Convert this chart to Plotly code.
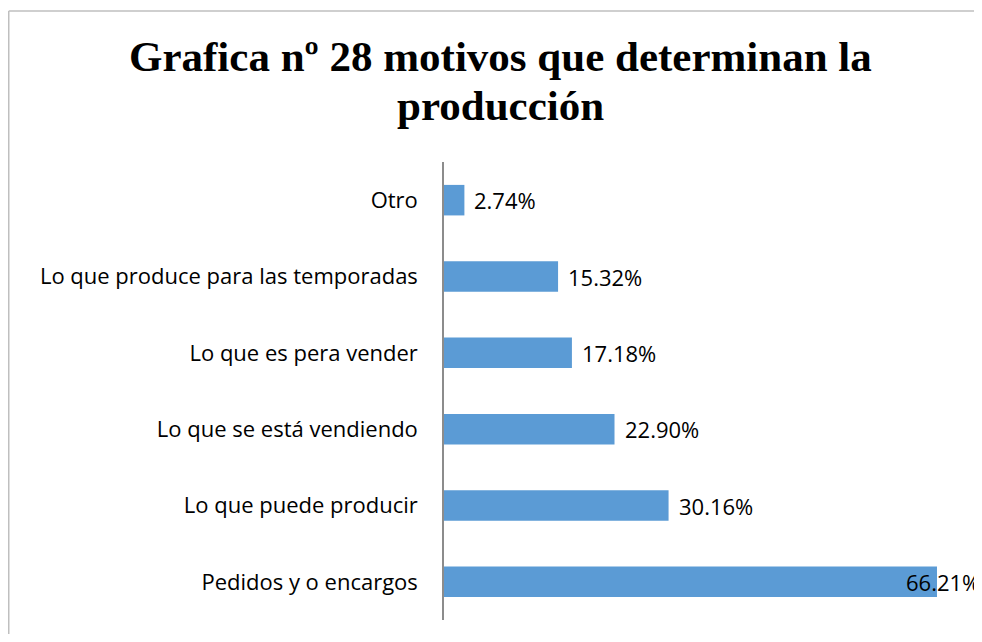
import plotly.graph_objects as go

# data
categorias = [
    "Pedidos y o encargos",
    "Lo que puede producir",
    "Lo que se está vendiendo",
    "Lo que es pera vender",
    "Lo que produce para las temporadas",
    "Otro",
]
porcentajes = [66.21, 30.16, 22.90, 17.18, 15.32, 2.74]
etiquetas = ["66.21%", "30.16%", "22.90%", "17.18%", "15.32%", "2.74%"]

titulo_1 = "Grafica nº 28 motivos que determinan la"
titulo_2 = "producción"

# the page body has an 8px margin; keep the figure small enough to avoid scrollbars
W, H = 966, 626
ML, MR, MT, MB = 436, 0, 154, 14
x_max = 71.18
pw = W - ML - MR
ph = H - MT - MB


def px_x(x):
    # figure pixel -> paper x
    return (x - ML) / pw


def px_y(y):
    # figure pixel (from top) -> paper y
    return (H - MB - y) / ph


fuente = "Open Sans"
tam = 22

fig = go.Figure()
fig.add_trace(go.Bar(
    x=porcentajes,
    y=categorias,
    orientation="h",
    marker=dict(color="#5B9BD5", line=dict(width=0)),
    hoverinfo="x+y",
))

# value labels, kept inside the visible area like Excel does
for v, c, t in zip(porcentajes, categorias, etiquetas):
    if v > x_max - 12:
        fig.add_annotation(x=x_max, y=c, text=t, showarrow=False,
                           xanchor="right", xshift=8,
                           font=dict(family=fuente, size=tam, color="#000000"))
    else:
        fig.add_annotation(x=v, y=c, text=t, showarrow=False,
                           xanchor="left", xshift=8,
                           font=dict(family=fuente, size=tam, color="#000000"))

# title, two lines placed separately to keep Excel's tight line spacing
for txt, yy in [(titulo_1, 49), (titulo_2, 97)]:
    fig.add_annotation(xref="paper", yref="paper", x=px_x(492), y=px_y(yy),
                       text="<b>" + txt + "</b>", showarrow=False,
                       xanchor="center", yanchor="middle",
                       font=dict(family="Liberation Serif", size=43, color="#000000"))

# chart area border (right and bottom edges fall outside the window)
bx0 = px_x(0.75)
by1 = px_y(3)
fig.add_shape(type="line", xref="paper", yref="paper",
              x0=bx0, x1=bx0, y0=-0.2, y1=by1,
              line=dict(color="#BFBFBF", width=1.5))
fig.add_shape(type="line", xref="paper", yref="paper",
              x0=bx0, x1=1.1, y0=by1, y1=by1,
              line=dict(color="#BFBFBF", width=1.5))

fig.update_layout(
    width=W, height=H,
    margin=dict(l=ML, r=MR, t=MT, b=MB),
    paper_bgcolor="white",
    plot_bgcolor="white",
    bargap=0.6,
    showlegend=False,
    xaxis=dict(range=[0, x_max], visible=False, fixedrange=True),
    yaxis=dict(
        showline=True, linecolor="#8C8C8C", linewidth=1.5,
        ticks="", showgrid=False, zeroline=False,
        ticklabelstandoff=20,
        tickfont=dict(family=fuente, size=tam, color="#000000"),
        fixedrange=True,
    ),
)

fig.write_html("out.html")
